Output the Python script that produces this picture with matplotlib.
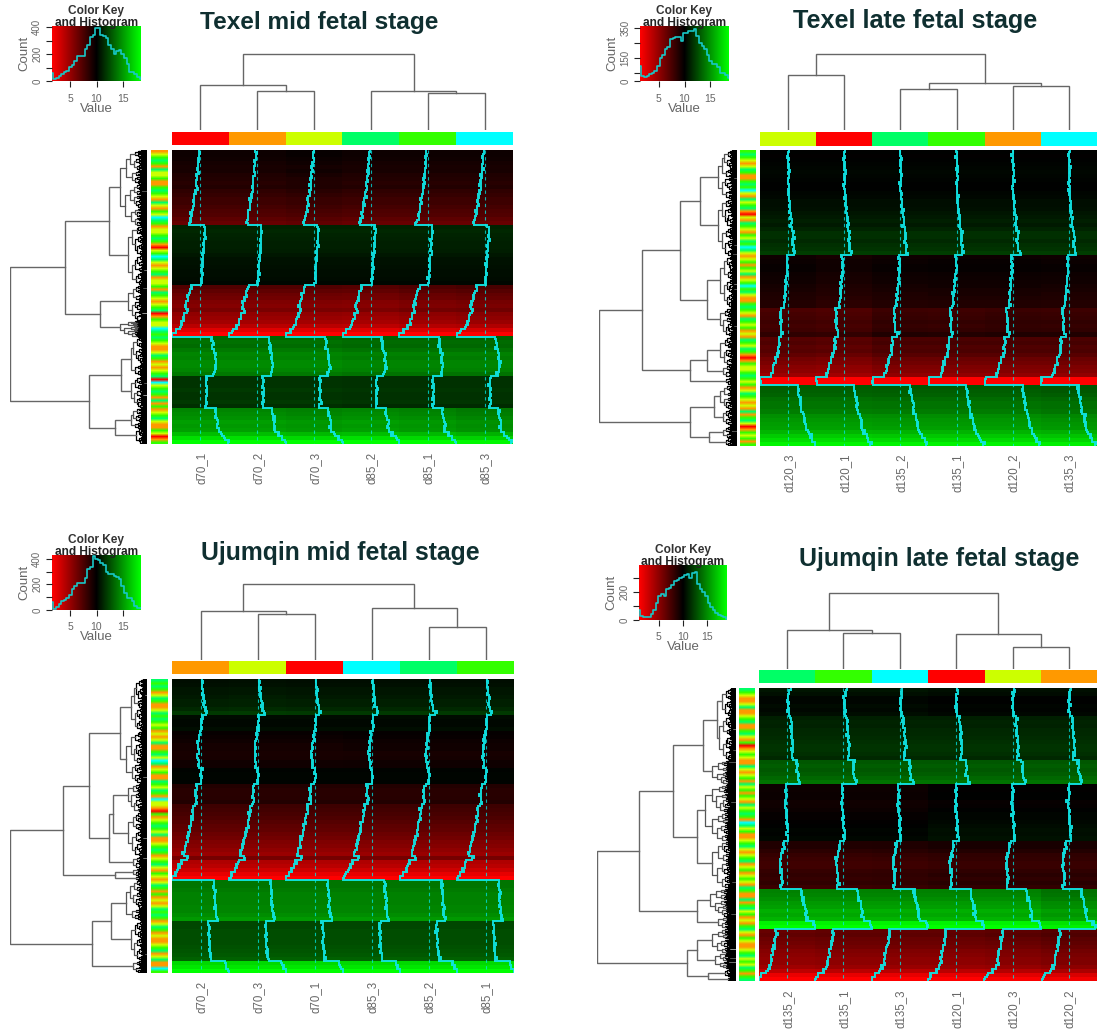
import numpy as np
import matplotlib
matplotlib.use("Agg")
import matplotlib.pyplot as plt
from matplotlib.colors import LinearSegmentedColormap, to_rgb

W, H = 1097, 1030
plt.rcParams['font.family'] = ['Liberation Sans', 'DejaVu Sans']

SAMPLE_COLORS = dict(r='#FF0000', o='#FF9900', y='#CCFF00', g='#33FF00', s='#00FF66', c='#00FFFF')
RG = LinearSegmentedColormap.from_list('rg', ['#FF0000', '#000000', '#00FF00'])

titles = ["Texel mid fetal stage", "Texel late fetal stage", "Ujumqin mid fetal stage", "Ujumqin late fetal stage"]

labels_1 = ["d70_1", "d70_2", "d70_3", "d85_2", "d85_1", "d85_3"]
labels_2 = ["d120_3", "d120_1", "d135_2", "d135_1", "d120_2", "d135_3"]
labels_3 = ["d70_2", "d70_3", "d70_1", "d85_3", "d85_2", "d85_1"]
labels_4 = ["d135_2", "d135_1", "d135_3", "d120_1", "d120_3", "d120_2"]

colbar_1 = "roysgc"
colbar_2 = "yrsgoc"
colbar_3 = "oyrcsg"
colbar_4 = "sgcryo"

# heat-map row values (negative = red, positive = green), split into blocks
blocks_1 = [
    [-.03,-.03,-.04,-.06,-.08,-.07,-.1,-.12,-.13,-.12,-.16,-.19,-.22,-.22,-.25,-.28,-.3,-.34,-.38],
    [.12,.13,.12,.11,.1,.1,.09,.07,.05,.05,.04,.03,.03,.02,.01],
    [-.3,-.35,-.4,-.42,-.48,-.5,-.45,-.55,-.58,-.62,-.7,-.85,-1.0],
    [.38,.42,.4,.45,.5,.48,.52,.52,.5,.45],
    [.2,.2,.2,.22,.2,.2,.22,.18],
    [.5,.52,.55,.6,.58,.6,.72,.85,1.0],
]
blocks_2 = [
    [.0,-.01,.0,.01,.02,.03,.02,.01,.0,.0,.02,.03,.05,.05,.06,.08,.1,.12,.1,.14,.18,.18,.16,.18,.2,.24],
    [-.06,-.04,-.03,-.03,-.05,-.06,-.07,-.08,-.1,-.11,-.12,-.14,-.14],
    [-.25,-.23,-.22,-.2,-.22,-.2,-.14],
    [-.3,-.28,-.32,-.3,-.35,-.42,-.45,-.5,-.52,-.58],
    [-1.0,-1.0],
    [.35,.36,.38,.42,.45,.45,.48,.55,.58,.6,.62,.7,.78,.85,.95],
]
blocks_3 = [
    [.05,.06,.08,.08,.1,.12,.12,.16,.22],
    [.04,.03,.03,.05],
    [-.02,-.03,-.05,-.07,-.07,-.09,-.08,-.06,-.06],
    [.01,.02,.02,.01],
    [-.14,-.16,-.16,-.15,-.14,-.24,-.26,-.28,-.3,-.33,-.36,-.38,-.42,-.45,-.5,-.52,-.56,-.6,-.46,-.68,-.72,-.8,-.9,-1.0],
    [.46,.46,.48,.5,.5,.5,.52,.52,.55,.6],
    [.28,.28,.3,.3,.3,.3,.32,.33,.35,.38],
    [.85,.9,1.0],
]
blocks_4 = [
    [.08,.06,.02,.02,.04,.03,.05],
    [.12,.14,.13,.15,.16,.17,.18,.2,.2,.18,.16],
    [.34,.36,.34,.36,.4,.45],
    [-.03,-.03,-.02,-.02,-.05,-.04,-.02,.0,.0,.01,.02,.04,.03,.05],
    [-.1,-.1,-.14,-.18,-.2,-.22,-.22,-.18,-.16,-.18,-.16,-.2],
    [.5,.52,.55,.6,.62,.68,.65,.7,.95,1.0],
    [-.38,-.36,-.4,-.42,-.45,-.5,-.52,-.55,-.55,-.6,-.72,-.9,-1.0],
]

# column adjustment of each block
shift_1 = [[-.02,-.02,.0,-.02,-.02,-.02],[.02,.02,.02,.02,.02,.02],[-.02,-.02,-.02,-.03,.0,.02],
           [.02,.02,.02,.0,.0,.0],[.0,.0,.0,-.01,-.01,-.01],[.02,.02,.0,.02,.0,-.03]]
shift_2 = [[.0,.0,.0,.0,.0,.0],[.0,-.03,.0,.01,.01,.0],[-.04,-.06,.01,.0,.02,.01],
           [-.03,-.05,.01,.01,.01,.01],[.0,.0,.0,.0,.0,.0],[.01,.01,.0,.0,.0,-.02]]
shift_3 = [[.0,.01,.0,.0,.0,.0],[.0,.0,.0,.0,.0,.0],[-.01,-.01,-.01,.0,.0,.0],[.0,.0,.0,.0,.0,.0],
           [.0,.0,.0,.0,.0,.0],[.0,.0,.0,.0,.0,.0],[.0,.0,.0,.0,.0,.0],[.0,.0,.0,.0,.0,.0]]
shift_4 = [[.0,.0,.0,-.02,-.02,-.02],[.0,.0,.0,.0,.0,.0],[.0,.0,.0,.0,.0,.0],
           [-.02,-.02,-.02,.02,.02,.02],[-.03,-.03,-.02,.0,.0,.0],[.0,.0,.0,.0,.0,-.06],
           [-.02,.0,.0,.0,.02,.05]]

wiggle = [.01,-.02,.03,.0,-.03,.02,.05,-.01,.0,-.04,.02,.01,-.02,.04,-.01,.0,.03,-.05,.01,.02,
          -.01,.0,-.02,.03,.06,-.02,.01,-.03,.0,.02,-.04,.01,.03,-.01,.0,.02,-.07,.01,.0,-.02,
          .02,.04,-.01,-.03,.01,.0,.03,-.02,.01,.08,-.01,.0,-.03,.02,.0,-.01,.02,-.04,.01,.03,-.02]

# side colour strips, top to bottom
strip_1 = "oygsgosyygoogsgyosyogycsgoyygsgorygcsyoygsoyygosgyoygsrogyycsgsgyooysgoyoygsrcygsgosogoygsyoogyrog"
strip_2 = "gsgyoysgoogsgcyosygsoryosgyogysgcsyoygogysoygcgsyoogsgyosgygoyosgysgorogyygsgygoysgyoyosogsyrogygog"
strip_3 = "sgsgoysgooysgsgygoyoysoogsycsoygoosgysgocyyorgoygsgysooygsgoygsyogyoysgogoyoysgsgoysgoyooygsoysoocg"
strip_4 = "sgyooysooygsoogsyogroygyoosyoygosygogyosygsgocsygooygsyoygsoygoygyosgoosogsygoyogsyogyooygsygysgogs"

# histograms of the colour keys
hist_1 = [60,15,20,35,50,65,75,105,120,150,190,185,190,240,270,325,340,395,395,345,335,320,270,240,205,225,230,205,170,125,70,65,50,30,15]
hist_2 = [100,35,25,30,45,55,65,100,150,170,215,225,280,285,295,290,265,320,320,335,335,345,300,250,230,210,170,135,115,110,90,55,50,40,20]
hist_3 = [60,10,20,45,70,75,90,120,165,185,210,210,215,250,320,340,420,395,390,365,350,300,280,285,265,255,240,190,135,90,90,70,35,15,15]
hist_4 = [70,30,20,20,25,40,70,120,170,190,170,220,230,250,280,290,300,310,320,330,300,340,345,260,220,200,170,120,90,70,50,35,30,20,10]

# column dendrograms: (height, left, right); int = leaf
ctree_1 = (1.0, (.59, 0, (.51, 1, 2)), (.51, 3, (.49, 4, 5)))
ctree_2 = (1.0, (.72, 0, 1), (.62, (.54, 2, 3), (.58, 4, 5)))
ctree_3 = (1.0, (.64, 0, (.60, 1, 2)), (.68, 3, (.43, 4, 5)))
ctree_4 = (1.0, (.51, 0, (.47, 1, 2)), (.46, 3, (.29, 4, 5)))

# row dendrograms: (height, a, b); [first row, last row, height] = dense cluster
rtree_1 = (1.0,
    (.60, (.28, [0,19,.2], [19,34,.14]), (.345, [34,43,.14], [43,47,.2])),
    (.42, (.19, [47,57,.12], [57,65,.12]), (.235, [65,70,.12], [70,74,.08])))
rtree_2 = (1.0,
    (.69, (.41, (.27, [0,12,.14], [12,26,.14]), (.22, [26,39,.12], [39,46,.12])),
          (.34, (.22, [46,53,.12], [53,56,.1]), [56,58,.08])),
    (.34, (.17, [58,64,.12], [64,68,.1]), (.2, [68,71,.1], [71,73,.08])))
rtree_3 = (1.0,
    (.61, (.42, (.2, [0,13,.12], [13,26,.15]),
                (.28, (.25, [26,33,.14], [33,44,.14]), [44,47,.1])),
          (.23, [47,49,.1], [49,50,.08])),
    (.4, (.26, [50,60,.15], [60,70,.12]), [70,73,.1]))
rtree_4 = (1.0,
    (.70, (.45, (.24, (.14, [0,7,.1], [7,18,.12]), [18,24,.17]),
                (.28, [24,38,.22], [38,50,.17])),
          (.28, [50,57,.19], [57,60,.13])),
    (.35, (.28, [60,66,.17], [66,70,.15]), (.2, [70,72,.08], [72,73,.06])))

panels = [
    dict(title=titles[0], tx=200, ty=22, tsize=17.6, labels=labels_1, bar=colbar_1, blocks=blocks_1, shift=shift_1,
         strip=strip_1, hist=hist_1, ctree=ctree_1, rtree=rtree_1, ylim=410, yt=[0,100,200,300,400], yl=[0,200,400],
         xl=(1.6,18.4), heat=(172,513,150,444), cb=(132,145), cd=(53,130), st=(151,167), rd=(10,147),
         key=(52,141,26,81)),
    dict(title=titles[1], tx=793, ty=21, tsize=18.2, labels=labels_2, bar=colbar_2, blocks=blocks_2, shift=shift_2,
         strip=strip_2, hist=hist_2, ctree=ctree_2, rtree=rtree_2, ylim=365, yt=[0,50,150,250,350], yl=[0,150,350],
         xl=(1.4,18.6), heat=(760,1097,150,446), cb=(132,146), cd=(53,130), st=(740,756), rd=(599,737),
         key=(640,729,26,81)),
    dict(title=titles[2], tx=201, ty=553, tsize=17.8, labels=labels_3, bar=colbar_3, blocks=blocks_3, shift=shift_3,
         strip=strip_3, hist=hist_3, ctree=ctree_3, rtree=rtree_3, ylim=430, yt=[0,100,200,300,400], yl=[0,200,400],
         xl=(1.6,18.4), heat=(172,514,679,973), cb=(661,674), cd=(583,660), st=(151,167), rd=(10,147),
         key=(52,141,555,610)),
    dict(title=titles[3], tx=799, ty=559, tsize=18.0, labels=labels_4, bar=colbar_4, blocks=blocks_4, shift=shift_4,
         strip=strip_4, hist=hist_4, ctree=ctree_4, rtree=rtree_4, ylim=395, yt=[0,100,200,300], yl=[0,200],
         xl=(1.0,19.0), heat=(759,1097,688,981), cb=(670,683), cd=(592,669), st=(739,755), rd=(597,736),
         key=(639,727,565,620)),
]

fig = plt.figure(figsize=(W/100, H/100), dpi=100, facecolor='white')

def px_axes(x0, x1, y0, y1):
    ax = fig.add_axes([x0/W, 1-y1/H, (x1-x0)/W, (y1-y0)/H])
    ax.set_axis_off()
    return ax

def col_dendro(ax, node):
    if isinstance(node, int):
        return node + .5, 0.0
    h, a, b = node
    xa, ha = col_dendro(ax, a)
    xb, hb = col_dendro(ax, b)
    ax.plot([xa, xa, xb, xb], [ha, h, h, hb], color='#666666', lw=1.0, solid_joinstyle='miter')
    return (xa+xb)/2, h

RATIOS = [.45,.6,.35,.55,.7,.4,.5,.3,.65,.42,.58]
counter = [0]
def comb(ax, s, e, h):
    if e - s <= .3:
        h = max(h, .03)
        ax.plot([0, h, h, 0], [s, s, e, e], color='black', lw=.9)
        return (s+e)/2
    r = RATIOS[counter[0] % len(RATIOS)]
    counter[0] += 1
    m = s + (e-s)*r
    k1 = h*(.62+.3*r)
    k2 = h*(.92-.3*r)
    ya = comb(ax, s, m, k1)
    yb = comb(ax, m, e, k2)
    c = '#555555' if h > .09 else 'black'
    ax.plot([k1, h, h, k2], [ya, ya, yb, yb], color=c, lw=.9)
    return (ya+yb)/2

def row_dendro(ax, node):
    if isinstance(node, list):
        s, e, h = node
        return comb(ax, s, e, h), h
    h, a, b = node
    ya, ha = row_dendro(ax, a)
    yb, hb = row_dendro(ax, b)
    ax.plot([ha, h, h, hb], [ya, ya, yb, yb], color='#666666', lw=1.0, solid_joinstyle='miter')
    return (ya+yb)/2, h

for p in panels:
    hx0, hx1, hy0, hy1 = p['heat']
    rows = np.array([v for b in p['blocks'] for v in b])
    block_of = np.array([i for i, b in enumerate(p['blocks']) for _ in b])
    shift = np.array(p['shift'])
    mat = rows[:, None] + shift[block_of]
    n = len(rows)

    # heat map with trace
    ax = px_axes(hx0, hx1, hy0, hy1)
    ax.imshow(mat, cmap=RG, vmin=-1, vmax=1, aspect='auto', interpolation='nearest',
              extent=(0, 6, n, 0))
    for j in range(6):
        ax.plot([j+.5, j+.5], [0, n], color='#00E8E8', lw=.8, ls=(0, (3, 3)), alpha=.75)
        ys, xs = [], []
        for i in range(n):
            for k in (0, 1):
                w = wiggle[(2*i + k + 7*j + len(p['labels'][0])) % len(wiggle)]
                x = j + .5 + (mat[i, j] + w*.8)/2
                ys += [i + k*.5, i + k*.5 + .5]
                xs += [x, x]
        ax.plot(np.clip(xs, j, j+1), ys, color='#10E6E6', lw=1.4, solid_joinstyle='miter', alpha=.95)
    ax.set_xlim(0, 6); ax.set_ylim(n, 0)

    # column labels
    for j, lab in enumerate(p['labels']):
        fig.text((hx0 + (hx1-hx0)*(j+.5)/6 + 1)/W, 1-(hy1+8)/H, lab, rotation=90, ha='center', va='top',
                 fontsize=8.3, color='#666666')

    # column colour bar
    ax = px_axes(hx0, hx1, *p['cb'])
    ax.imshow([[to_rgb(SAMPLE_COLORS[c]) for c in p['bar']]], aspect='auto', interpolation='nearest',
              extent=(0, 6, 1, 0))

    # column dendrogram
    ax = px_axes(hx0, hx1, *p['cd'])
    col_dendro(ax, p['ctree'])
    ax.set_xlim(0, 6); ax.set_ylim(0, 1.01)

    # side strip
    ax = px_axes(p['st'][0], p['st'][1], hy0, hy1)
    ax.imshow([[to_rgb(SAMPLE_COLORS[c])] for c in p['strip']], aspect='auto', interpolation='bilinear',
              extent=(0, 1, len(p['strip']), 0))

    # row dendrogram
    ax = px_axes(p['rd'][0], p['rd'][1], hy0, hy1)
    row_dendro(ax, p['rtree'])
    ax.set_xlim(1.0, 0); ax.set_ylim(n, 0)

    # colour key
    kx0, kx1, ky0, ky1 = p['key']
    ax = fig.add_axes([kx0/W, 1-ky1/H, (kx1-kx0)/W, (ky1-ky0)/H])
    lo, hi = p['xl']
    ax.imshow([np.linspace(-1, 1, 200)], cmap=RG, vmin=-1, vmax=1, aspect='auto',
              extent=(lo, hi, 0, p['ylim']), interpolation='bilinear')
    ax.step(np.linspace(lo, hi, len(p['hist'])), p['hist'], where='mid', color='#18C8C8', lw=1.2)
    ax.set_xlim(lo, hi); ax.set_ylim(0, p['ylim'])
    for s in ax.spines.values():
        s.set_visible(False)
    ax.set_xticks([5, 10, 15])
    ax.set_yticks(p['yt'])
    ax.set_yticklabels([str(v) if v in p['yl'] else '' for v in p['yt']], rotation=90, va='center')
    ax.tick_params(axis='both', length=4, width=.8, color='#222222', labelcolor='#666666', labelsize=7, pad=3)
    ax.tick_params(axis='x', pad=5, labelsize=7.5)
    ax.text(-.31, .5, 'Count', rotation=90, transform=ax.transAxes, ha='center', va='center',
            fontsize=9.5, color='#666666')
    ax.text(.5, -.5, 'Value', transform=ax.transAxes, ha='center', va='center', fontsize=9.5, color='#666666')
    ax.text(.5, 1.27, 'Color Key', transform=ax.transAxes, ha='center', va='center', fontsize=8.6,
            fontweight='bold', color='#333333')
    ax.text(.5, 1.05, 'and Histogram', transform=ax.transAxes, ha='center', va='center', fontsize=8.6,
            fontweight='bold', color='#222222', zorder=10)

    # title
    fig.text(p['tx']/W, 1-p['ty']/H, p['title'], ha='left', va='center', fontsize=p['tsize'],
             fontweight='bold', color='#0F2F30')

fig.savefig('out.png', dpi=100, facecolor='white')
